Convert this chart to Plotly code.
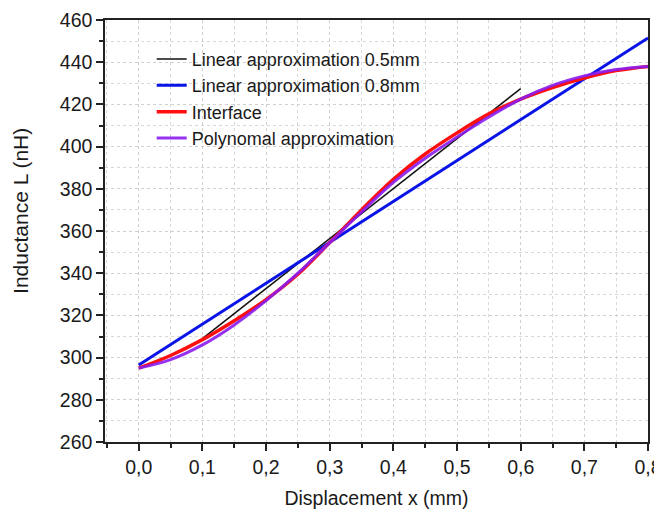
import plotly.graph_objects as go

x_curve = [0, 0.05, 0.1, 0.15, 0.2, 0.25, 0.3, 0.35, 0.4, 0.45, 0.5, 0.55, 0.6, 0.65, 0.7, 0.75, 0.8]
interface = [295, 301, 308.5, 317.5, 327.5, 339.5, 354.5, 370, 384.5, 396.5, 406.5, 415.5, 422.5, 428, 432.5, 436, 438]
polynomial = [295, 299, 306, 315.5, 327, 340, 354.5, 369, 383, 394.5, 404.5, 414, 422.5, 429, 433.5, 436.5, 438]
lin05_x = [0.1, 0.6]
lin05_y = [309, 427.5]
lin08_x = [0, 0.8]
lin08_y = [296.5, 451.5]

fig = go.Figure()
fig.add_trace(go.Scatter(x=lin05_x, y=lin05_y, mode="lines", name="Linear approximation 0.5mm",
                         line=dict(color="#111111", width=1.5)))
fig.add_trace(go.Scatter(x=lin08_x, y=lin08_y, mode="lines", name="Linear approximation 0.8mm",
                         line=dict(color="#0a14e6", width=3)))
fig.add_trace(go.Scatter(x=x_curve, y=interface, mode="lines", name="Interface",
                         line=dict(color="#ff1010", width=3.5, shape="spline")))
fig.add_trace(go.Scatter(x=x_curve, y=polynomial, mode="lines", name="Polynomal approximation",
                         line=dict(color="#8a1cf0", width=3, shape="spline"), opacity=0.9))

font = "Liberation Sans, Arial, sans-serif"
fig.update_layout(
    width=662, height=515,
    margin=dict(l=97, r=22, t=12, b=81, autoexpand=False),
    paper_bgcolor="white", plot_bgcolor="white",
    separators=",.",
    font=dict(family=font, size=19.5, color="#1a1a1a"),
    showlegend=True,
    legend=dict(x=0.086, y=0.951, xanchor="left", yanchor="top", bgcolor="rgba(0,0,0,0)",
                font=dict(size=18, color="#1a1a1a"), tracegroupgap=0, itemwidth=30),
    xaxis=dict(range=[-0.053, 0.8], dtick=0.1, tick0=0, tickformat=".1f", automargin=False,
               ticks="outside", ticklen=7, tickwidth=1.5, tickcolor="#222",
               showline=True, linecolor="#222", linewidth=1.5, mirror=True,
               showgrid=True, gridcolor="#d0d0d0", griddash="dot", gridwidth=1,
               zeroline=False,
               minor=dict(dtick=0.05, tick0=0, ticks="outside", ticklen=4, tickcolor="#222",
                          showgrid=True, gridcolor="#d8d8d8", griddash="dot"),
               title=dict(text="Displacement x (mm)", standoff=14, font=dict(size=19.5))),
    yaxis=dict(range=[260, 460], dtick=20, tick0=260, automargin=False,
               ticks="outside", ticklen=7, tickwidth=1.5, tickcolor="#222",
               showline=True, linecolor="#222", linewidth=1.5, mirror=True,
               showgrid=True, gridcolor="#d0d0d0", griddash="dot", gridwidth=1,
               zeroline=False,
               minor=dict(dtick=10, tick0=260, ticks="outside", ticklen=4, tickcolor="#222",
                          showgrid=True, gridcolor="#d8d8d8", griddash="dot")),
    annotations=[dict(text="Inductance L (nH)", textangle=-90, xref="paper", yref="paper",
                      x=-0.157, y=0.547, xanchor="center", yanchor="middle", showarrow=False,
                      font=dict(size=21, color="#1a1a1a"))],
)

fig.write_html("out.html")
